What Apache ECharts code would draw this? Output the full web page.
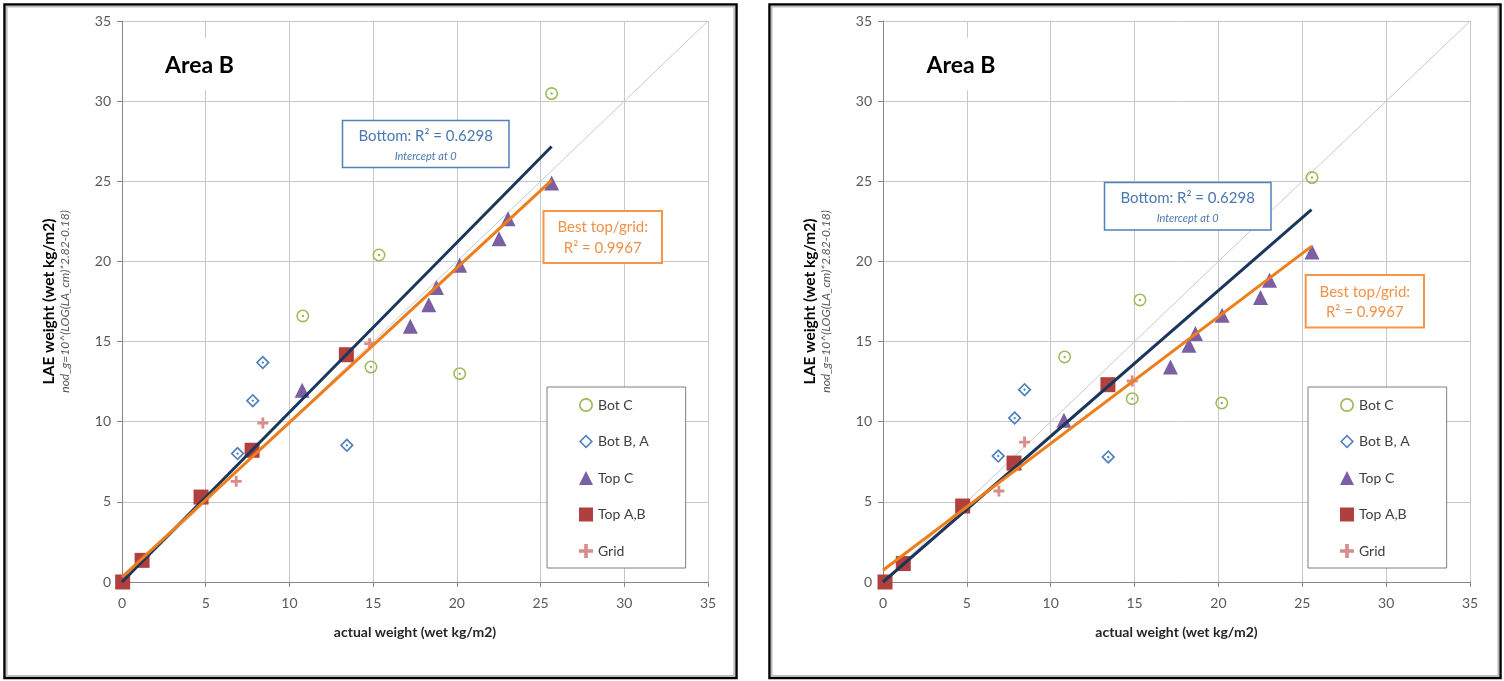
<!DOCTYPE html>
<html><head><meta charset="utf-8">
<script src="https://cdn.jsdelivr.net/npm/echarts@6/dist/echarts.min.js"></script>
<style>html,body{margin:0;padding:0;background:#fff}#c{width:1504px;height:681px}</style>
</head><body><div id="c"></div>
<script>
// ---------- data ----------
const seriesNames = ['Bot C', 'Bot B, A', 'Top C', 'Top A,B', 'Grid'];
const tickValues = [0, 5, 10, 15, 20, 25, 30, 35];
const xAxisTitle = 'actual weight (wet kg/m2)';
const yAxisTitle = 'LAE weight (wet kg/m2)';
const yAxisSubtitle = 'nod_g=10^(LOG(LA_cm)*2.82-0.18)';
const panelTitles = ['Area B', 'Area B'];
const bottomLabel = ['Bottom: R² = 0.6298', 'Intercept at 0'];
const bestLabel = ['Best top/grid:', 'R² = 0.9967'];

// Left panel
const L_botC_x = [25.66, 15.35, 10.80, 14.87, 20.17];
const L_botC_y = [30.47, 20.40, 16.60, 13.41, 13.00];
const L_botBA_x = [8.41, 7.81, 6.90, 13.43];
const L_botBA_y = [13.69, 11.31, 8.01, 8.53];
const L_topC_x = [10.76, 17.22, 18.32, 18.78, 20.17, 22.52, 23.06, 25.66];
const L_topC_y = [11.96, 15.95, 17.30, 18.37, 19.76, 21.42, 22.67, 24.89];
const L_topAB_x = [0.04, 1.20, 4.72, 7.77, 13.40];
const L_topAB_y = [0.00, 1.35, 5.30, 8.22, 14.18];
const L_grid_x = [6.82, 8.41, 14.79];
const L_grid_y = [6.28, 9.92, 14.87];
const L_bottomFit_x = [0, 25.66];
const L_bottomFit_y = [0, 27.17];
const L_bestFit_x = [0, 25.66];
const L_bestFit_y = [0.30, 25.06];

// Right panel
const R_botC_x = [25.58, 15.32, 10.83, 14.86, 20.20];
const R_botC_y = [25.23, 17.60, 14.04, 11.44, 11.17];
const R_botBA_x = [8.44, 7.85, 6.87, 13.43];
const R_botBA_y = [12.00, 10.23, 7.86, 7.80];
const R_topC_x = [10.79, 17.14, 18.24, 18.63, 20.22, 22.51, 23.05, 25.58];
const R_topC_y = [10.09, 13.41, 14.77, 15.50, 16.64, 17.75, 18.82, 20.59];
const R_topAB_x = [0.12, 1.21, 4.75, 7.81, 13.41];
const R_topAB_y = [0.00, 1.15, 4.74, 7.42, 12.31];
const R_grid_x = [6.91, 8.44, 14.86];
const R_grid_y = [5.68, 8.73, 12.54];
const R_bottomFit_x = [0, 25.55];
const R_bottomFit_y = [0, 23.23];
const R_bestFit_x = [0, 25.55];
const R_bestFit_y = [0.73, 20.94];

// 1:1 reference line
const oneToOne_x = [0, 35];
const oneToOne_y = [0, 35];

// ---------- build ----------
const pts = (xs, ys) => xs.map((x, i) => [x, ys[i]]);
const FONT = 'Lato';
const ringDot = 'path://M0,-10A10,10,0,1,1,0,10A10,10,0,1,1,0,-10ZM0,-7.6A7.6,7.6,0,1,0,0,7.6A7.6,7.6,0,1,0,0,-7.6ZM0,-1.9A1.9,1.9,0,1,1,0,1.9A1.9,1.9,0,1,1,0,-1.9Z';
const ring = 'path://M0,-10A10,10,0,1,1,0,10A10,10,0,1,1,0,-10ZM0,-7.6A7.6,7.6,0,1,0,0,7.6A7.6,7.6,0,1,0,0,-7.6Z';
const diamondDot = 'path://M0,-10L10,0L0,10L-10,0ZM0,-6.6L-6.6,0L0,6.6L6.6,0ZM0,-2L2,0L0,2L-2,0Z';
const diamond = 'path://M0,-10L10,0L0,10L-10,0ZM0,-6.8L-6.8,0L0,6.8L6.8,0Z';
const plus = 'path://M-2.6,-10L2.6,-10L2.6,-2.6L10,-2.6L10,2.6L2.6,2.6L2.6,10L-2.6,10L-2.6,2.6L-10,2.6L-10,-2.6L-2.6,-2.6Z';

const styles = {
  'Bot C': {symbol: ringDot, symbolSize: 13, color: '#9BBB59'},
  'Bot B, A': {symbol: diamondDot, symbolSize: 14, color: '#4F81BD'},
  'Top C': {symbol: 'triangle', symbolSize: 15, color: '#7A5FA3'},
  'Top A,B': {symbol: 'rect', symbolSize: 15, color: '#B0403D'},
  'Grid': {symbol: plus, symbolSize: 11, color: '#D98C8A'}
};

const panels = [
  {sets: [[L_botC_x, L_botC_y], [L_botBA_x, L_botBA_y], [L_topC_x, L_topC_y], [L_topAB_x, L_topAB_y], [L_grid_x, L_grid_y]],
   bottom: [L_bottomFit_x, L_bottomFit_y], best: [L_bestFit_x, L_bestFit_y]},
  {sets: [[R_botC_x, R_botC_y], [R_botBA_x, R_botBA_y], [R_topC_x, R_topC_y], [R_topAB_x, R_topAB_y], [R_grid_x, R_grid_y]],
   bottom: [R_bottomFit_x, R_bottomFit_y], best: [R_bestFit_x, R_bestFit_y]}
];

const series = [];
panels.forEach((p, idx) => {
  series.push({
    type: 'line', name: '1:1', xAxisIndex: idx, yAxisIndex: idx, z: 1,
    data: pts(oneToOne_x, oneToOne_y), symbol: 'none', silent: true,
    lineStyle: {color: '#C9C9C9', width: 1}
  });
  p.sets.forEach((s, k) => {
    const nm = seriesNames[k];
    const st = styles[nm];
    series.push({
      type: 'scatter', name: nm, xAxisIndex: idx, yAxisIndex: idx, z: 3,
      data: pts(s[0], s[1]), symbol: st.symbol, symbolSize: st.symbolSize,
      itemStyle: {color: st.color, opacity: 1}
    });
  });
  series.push({
    type: 'line', name: 'Bottom fit', xAxisIndex: idx, yAxisIndex: idx, z: 4,
    data: pts(p.bottom[0], p.bottom[1]), symbol: 'none', silent: true,
    lineStyle: {color: '#1B365C', width: 3}
  });
  series.push({
    type: 'line', name: 'Best top/grid fit', xAxisIndex: idx, yAxisIndex: idx, z: 4,
    data: pts(p.best[0], p.best[1]), symbol: 'none', silent: true,
    lineStyle: {color: '#EE7D1B', width: 3}
  });
});

const axisColor = '#868686';
const gridColor = '#C8C8C8';
function xAx(i) {
  return {
    type: 'value', gridIndex: i, min: tickValues[0], max: tickValues[tickValues.length - 1],
    interval: tickValues[1] - tickValues[0],
    name: xAxisTitle, nameLocation: 'middle', nameGap: 43,
    nameTextStyle: {fontFamily: FONT, fontSize: 14, fontWeight: 'bold', color: '#262626'},
    axisLine: {show: true, onZero: false, lineStyle: {color: axisColor, width: 1}},
    axisTick: {show: true, inside: false, length: 5, lineStyle: {color: axisColor}},
    axisLabel: {fontFamily: FONT, fontSize: 14, color: '#595959', margin: 14},
    splitLine: {show: true, lineStyle: {color: gridColor, width: 1}}
  };
}
function yAx(i) {
  return {
    type: 'value', gridIndex: i, min: tickValues[0], max: tickValues[tickValues.length - 1],
    interval: tickValues[1] - tickValues[0],
    name: '{t|' + yAxisTitle + '}\n{s|' + yAxisSubtitle + '}',
    nameLocation: 'middle', nameRotate: 90, nameGap: 50,
    nameTextStyle: {
      align: 'center',
      rich: {
        t: {fontFamily: FONT, fontSize: 15.5, fontWeight: 'bold', color: '#000', lineHeight: 18, align: 'center'},
        s: {fontFamily: FONT, fontSize: 12, fontStyle: 'italic', color: '#595959', lineHeight: 14, align: 'center'}
      }
    },
    axisLine: {show: true, onZero: false, lineStyle: {color: axisColor, width: 1}},
    axisTick: {show: true, inside: false, length: 5, lineStyle: {color: axisColor}},
    axisLabel: {fontFamily: FONT, fontSize: 14, color: '#595959', margin: 11},
    splitLine: {show: true, lineStyle: {color: gridColor, width: 1}}
  };
}

const legendData = [
  {name: 'Bot C', icon: ring},
  {name: 'Bot B, A', icon: diamond},
  {name: 'Top C'},
  {name: 'Top A,B'},
  {name: 'Grid'}
];
function legendAt(left) {
  return {
    orient: 'vertical', left: left, top: 387, data: legendData,
    itemWidth: 14, itemHeight: 14, itemGap: 22.5,
    padding: [11, 37, 10, 32],
    backgroundColor: '#fff', borderColor: '#7F7F7F', borderWidth: 1,
    textStyle: {fontFamily: FONT, fontSize: 14, color: '#404040'},
    selectedMode: false
  };
}

function frame(x, w) {
  return [
    {type: 'rect', z: 50, silent: true, shape: {x: x, y: 4.5, width: w, height: 673.5}, style: {fill: null, stroke: '#000', lineWidth: 2.5}},
    {type: 'rect', z: 50, silent: true, shape: {x: x + 2.2, y: 6.7, width: w - 4.4, height: 669.1}, style: {fill: null, stroke: '#BDBDBD', lineWidth: 1.8}}
  ];
}
function textEl(x, y, text, font, fill, align) {
  return {type: 'text', z: 101, silent: true, x: x, y: y,
    style: {text: text, font: font, fill: fill, align: align || 'center', verticalAlign: 'middle'}};
}
function box(x, y, w, h, stroke, lw) {
  return {type: 'rect', z: 100, silent: true, shape: {x: x, y: y, width: w, height: h},
    style: {fill: '#fff', stroke: stroke, lineWidth: lw}};
}
const blueText = '#4A78B0';
const orangeText = '#F0914A';
const graphics = [].concat(
  frame(4.5, 732), frame(769.5, 731),
  [
    box(152, 38, 108, 52, null, 0), textEl(165, 66, panelTitles[0], 'bold 23px Lato', '#000', 'left'),
    box(913, 38, 108, 52, null, 0), textEl(926.5, 66, panelTitles[1], 'bold 23px Lato', '#000', 'left'),
    box(342.5, 120.5, 166.5, 47, '#4F81BD', 1.5),
    textEl(425.7, 136.5, bottomLabel[0], '15px Lato', blueText),
    textEl(425.7, 156.5, bottomLabel[1], 'italic 11px Lato', blueText),
    box(543.5, 211, 118.5, 52, '#F79646', 2),
    textEl(602.7, 227.5, bestLabel[0], '15px Lato', orangeText),
    textEl(602.7, 248, bestLabel[1], '15px Lato', orangeText),
    box(1104.5, 182.5, 166.5, 47.5, '#4F81BD', 1.5),
    textEl(1187.7, 198.5, bottomLabel[0], '15px Lato', blueText),
    textEl(1187.7, 218.5, bottomLabel[1], 'italic 11px Lato', blueText),
    box(1305.7, 275, 118.3, 52.5, '#F79646', 2),
    textEl(1364.8, 291.7, bestLabel[0], '15px Lato', orangeText),
    textEl(1364.8, 312.5, bestLabel[1], '15px Lato', orangeText)
  ]
);

const chart = echarts.init(document.getElementById('c'), null, {renderer: 'canvas'});
chart.setOption({
  animation: false,
  backgroundColor: '#fff',
  textStyle: {fontFamily: FONT},
  grid: [
    {left: 122, top: 21, width: 586, height: 561},
    {left: 883, top: 21, width: 587, height: 561}
  ],
  xAxis: [xAx(0), xAx(1)],
  yAxis: [yAx(0), yAx(1)],
  legend: [legendAt(547), legendAt(1308)],
  series: series,
  graphic: graphics
});
</script>
</body></html>
